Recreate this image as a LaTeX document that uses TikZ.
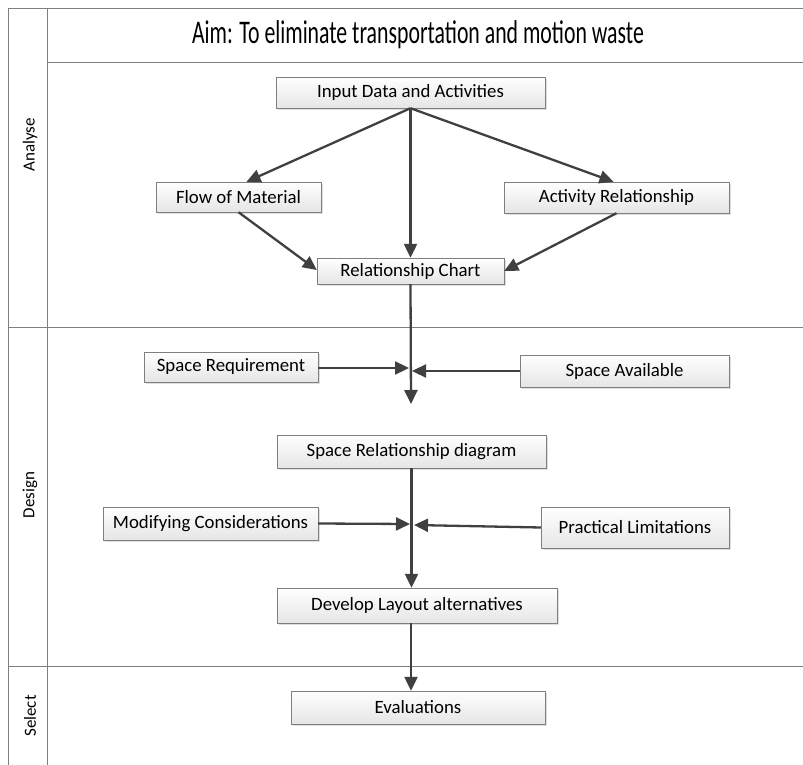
\documentclass[tikz,border=0pt]{standalone}
\usepackage{fontspec}
\setmainfont{Carlito}
\usepackage{graphicx}
\usetikzlibrary{arrows.meta,shadows}
\definecolor{linegray}{HTML}{404040}
\definecolor{framegray}{HTML}{7F7F7F}
\tikzset{
  stepbox/.style={shape=rectangle,draw=framegray,top color=white,bottom color=black!10,
    drop shadow={shadow xshift=2pt,shadow yshift=-2pt,opacity=0.25},
    inner sep=0pt,font=\fontsize{18.8}{21}\selectfont},
  flow/.style={draw=linegray,line width=2.3pt,-{Triangle[length=14pt,width=13pt]}},
  lane/.style={draw=framegray,line width=0.8pt},
  lanename/.style={rotate=90,font=\fontsize{17}{19}\selectfont}
}
\begin{document}
\begin{tikzpicture}[x=1pt,y=-1pt]
		\useasboundingbox (0,0) rectangle (803,765);
		\draw [lane] (8,765) -- (8,8) -- (803,8);
		\draw [lane] (47,8) -- (47,765);
		\draw [lane] (47,62) -- (803,62);
		\draw [lane] (8,327) -- (803,327);
		\draw [lane] (8,666) -- (803,666);
		\node (aim) at (418,35) {\scalebox{0.66}[1]{\fontsize{33}{36}\selectfont Aim: To eliminate transportation and motion waste}};
		\node [lanename] (analyse) at (30,145) {Analyse};
		\node [lanename] (design) at (30,495) {Design};
		\node [lanename] (select) at (30,716) {Select};
		\node [stepbox,minimum width=269pt,minimum height=31pt] (input) at (410.5,92.5) {Input Data and Activities};
		\node [stepbox,minimum width=165pt,minimum height=30pt] (material) at (238.5,197) {Flow of Material};
		\node [stepbox,minimum width=225pt,minimum height=31pt] (activity) at (616.5,197.5) {Activity Relationship};
		\node [stepbox,minimum width=187pt,minimum height=26pt] (chart) at (410.5,271) {Relationship Chart};
		\node [stepbox,minimum width=174pt,minimum height=30pt] (required) at (231,367) {Space Requirement};
		\node [stepbox,minimum width=209pt,minimum height=32pt] (available) at (624.5,371) {Space Available};
		\node [stepbox,minimum width=269pt,minimum height=33pt] (diagram) at (411.5,451.5) {Space Relationship diagram};
		\node [stepbox,minimum width=215pt,minimum height=33pt] (modify) at (210.5,523.5) {Modifying Considerations};
		\node [stepbox,minimum width=188pt,minimum height=41pt] (limits) at (635,527.5) {Practical Limitations};
		\node [stepbox,minimum width=280pt,minimum height=35pt] (develop) at (417,605.5) {Develop Layout alternatives};
		\node [stepbox,minimum width=254pt,minimum height=33pt] (evaluate) at (418,707.5) {Evaluations};
		\coordinate (meetreq) at (409,368);
		\coordinate (meetavail) at (412,371);
		\coordinate (end1) at (411,404);
		\coordinate (meetmod) at (410,524);
		\coordinate (meetlim) at (414,525);
		\draw [flow] (input.south) -- ([xshift=8pt]material.north);
		\draw [flow] (input.south) -- (chart.north);
		\draw [flow] (input.south) -- ([xshift=-3pt]activity.north);
		\draw [flow] (material.south) -- ([yshift=1pt]chart.west);
		\draw [flow] (activity.south) -- (chart.east);
		\draw [flow] (chart.south) -- (end1);
		\draw [flow] ([yshift=-1pt]required.east) -- (meetreq);
		\draw [flow] (available.west) -- (meetavail);
		\draw [flow] (diagram.south) -- (diagram.south |- develop.north);
		\draw [flow] (modify.east) -- (meetmod);
		\draw [flow] (limits.west) -- (meetlim);
		\draw [flow] ([xshift=-6pt]develop.south) -- ([xshift=-6pt]develop.south |- evaluate.north);
	\end{tikzpicture}
\end{document}
